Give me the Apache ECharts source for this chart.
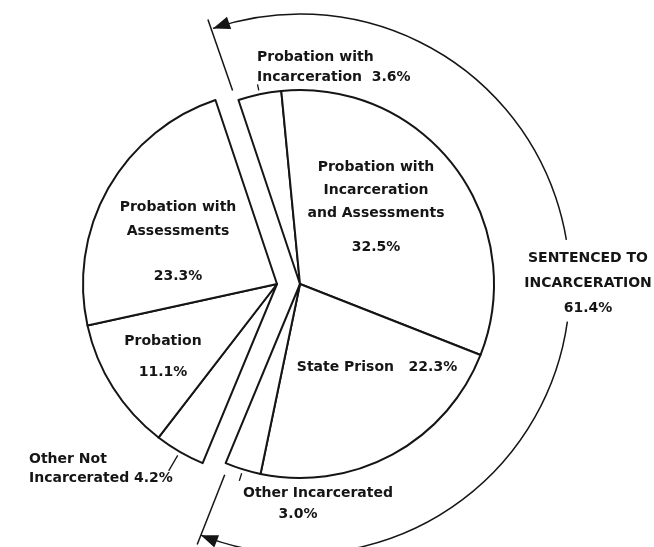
<!DOCTYPE html>
<html>
<head>
<meta charset="utf-8">
<script src="https://cdn.jsdelivr.net/npm/echarts@6/dist/echarts.min.js"></script>
<style>
  html, body { margin: 0; padding: 0; background: #fff; }
  #chart { width: 654px; height: 547px; }
</style>
</head>
<body>
<div id="chart"></div>
<script>
// slices, clockwise from the top
const categories = [
  'Probation with\nIncarceration',
  'Probation with\nIncarceration\nand Assessments',
  'State Prison',
  'Other Incarcerated',
  'Other Not\nIncarcerated',
  'Probation',
  'Probation with\nAssessments'
]
const values = [3.6, 32.5, 22.3, 3.0, 4.2, 11.1, 23.3]
const incarcerated = [true, true, true, true, false, false, false]
const groupTitle = 'SENTENCED TO\nINCARCERATION'

const ink = '#151515'
const font = 'DejaVu Sans'
const startDeg = -18.5 // clockwise from 12 o'clock
const pieR = 194
const centers = { in: [300, 284], out: [277, 284] }

// where each label sits (top of text block)
const labelPos = [
  { x: 257, y: 48, align: 'left', lh: 19.5, sep: '  ' },
  { x: 376, y: 155.5, align: 'center', lh: 23, gap: 11 },
  { x: 377, y: 355.5, align: 'center', lh: 23, sep: '   ' },
  { x: 318, y: 482.5, align: 'center', lh: 21, gap: 0, shift: 40 },
  { x: 29, y: 449.5, align: 'left', lh: 19, sep: ' ' },
  { x: 163, y: 329.5, align: 'center', lh: 23, gap: 8 },
  { x: 178, y: 195.75, align: 'center', lh: 23.5, gap: 21.5 }
]
// small leader ticks for the outside labels: [from r, to r]
const ticks = { 0: [198, 204], 3: [198, 206], 4: [198, 216] }

const labelText = (i) => {
  const p = labelPos[i]
  const pct = values[i].toFixed(1) + '%'
  if (p.sep) return categories[i] + p.sep + pct
  const v = p.shift ? '{v|' + pct + '}' : pct
  if (p.gap) return categories[i] + '\n{g| }\n' + v
  return categories[i] + '\n' + v
}

const groupSeries = (inGroup, center) => ({
  type: 'pie',
  center: center,
  radius: [0, pieR],
  startAngle: 90 - startDeg,
  clockwise: true,
  avoidLabelOverlap: false,
  animation: false,
  emphasis: { disabled: true },
  labelLine: { show: false },
  labelLayout: (params) => {
    const p = labelPos[params.dataIndex]
    return { x: p.x, y: p.y, align: p.align, verticalAlign: 'top' }
  },
  data: values.map((v, i) => {
    const shown = incarcerated[i] === inGroup
    const p = labelPos[i]
    return {
      name: categories[i],
      value: v,
      itemStyle: shown
        ? { color: '#fff', borderColor: ink, borderWidth: 2 }
        : { color: 'rgba(0,0,0,0)', borderWidth: 0 },
      label: {
        show: shown,
        position: 'inside',
        formatter: () => labelText(i),
        color: ink,
        fontFamily: font,
        fontWeight: 'bold',
        fontSize: 14,
        lineHeight: p.lh,
        rich: {
          g: { fontSize: 2, lineHeight: p.gap || 1 },
          v: { fontFamily: font, fontWeight: 'bold', fontSize: 14, color: ink, padding: [0, p.shift || 0, 0, 0] }
        }
      }
    }
  })
})

// geometry helpers (angles in degrees clockwise from 12 o'clock)
const rad = (deg) => (deg - 90) * Math.PI / 180
const polarAt = (c, deg, r) => [c[0] + r * Math.cos(rad(deg)), c[1] + r * Math.sin(rad(deg))]
const total = values.reduce((s, v) => s + v, 0)
const midDeg = (i) => startDeg + (values.slice(0, i).reduce((s, v) => s + v, 0) + values[i] / 2) / total * 360

const tickLines = Object.keys(ticks).map((k) => {
  const i = +k
  const c = incarcerated[i] ? centers.in : centers.out
  const a = polarAt(c, midDeg(i), ticks[k][0])
  const b = polarAt(c, midDeg(i), ticks[k][1])
  return { type: 'line', shape: { x1: a[0], y1: a[1], x2: b[0], y2: b[1] }, style: { stroke: ink, lineWidth: 1.3 } }
})

// outer arrow around the incarcerated group
const ringR = 270
const arrowHead = (deg, dir) => {
  const a = rad(deg)
  const tip = polarAt(centers.in, deg, ringR)
  const t = [-Math.sin(a) * dir, Math.cos(a) * dir]
  const n = [Math.cos(a), Math.sin(a)]
  const b = [tip[0] - t[0] * 17, tip[1] - t[1] * 17]
  return {
    type: 'polygon',
    shape: { points: [tip, [b[0] + n[0] * 6.5, b[1] + n[1] * 6.5], [b[0] - n[0] * 6.5, b[1] - n[1] * 6.5]] },
    style: { fill: ink }
  }
}
const radial = (deg) => {
  const a = polarAt(centers.in, deg, 205)
  const b = polarAt(centers.in, deg, 280)
  return { type: 'line', shape: { x1: a[0], y1: a[1], x2: b[0], y2: b[1] }, style: { stroke: ink, lineWidth: 1.5 } }
}
const arcPart = (from, to) => ({
  type: 'arc',
  shape: { cx: centers.in[0], cy: centers.in[1], r: ringR, startAngle: rad(from), endAngle: rad(to), clockwise: true },
  style: { stroke: ink, lineWidth: 1.5, fill: null }
})

const groupTotal = values.filter((v, i) => incarcerated[i]).reduce((s, v) => s + v, 0)
const groupEnd = startDeg + groupTotal / total * 360

const chart = echarts.init(document.getElementById('chart'))
chart.setOption({
  backgroundColor: '#fff',
  animation: false,
  graphic: [
    arcPart(startDeg - 0.3, 80.6),
    arcPart(98, groupEnd - 1),
    arrowHead(startDeg - 0.3, -1),
    arrowHead(groupEnd - 1, 1),
    radial(startDeg - 0.7),
    radial(groupEnd - 1),
    ...tickLines,
    {
      type: 'text',
      x: 588,
      y: 245.5,
      style: {
        text: groupTitle + '\n' + groupTotal.toFixed(1) + '%',
        fill: ink,
        fontFamily: font,
        fontWeight: 'bold',
        fontSize: 14,
        lineHeight: 25,
        align: 'center',
        verticalAlign: 'top'
      }
    }
  ],
  series: [
    groupSeries(true, centers.in),
    groupSeries(false, centers.out)
  ]
})
</script>
</body>
</html>
